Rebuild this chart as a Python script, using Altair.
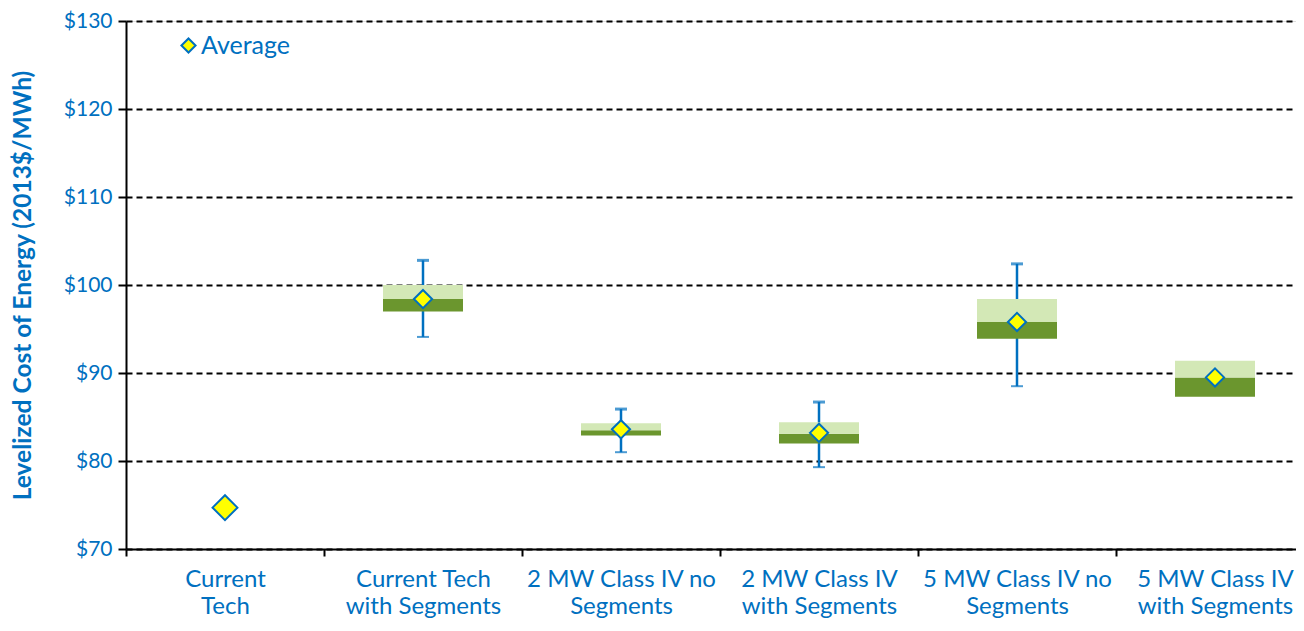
import altair as alt
import pandas as pd

categories = [
    "Current Tech",
    "Current Tech with Segments",
    "2 MW Class IV no Segments",
    "2 MW Class IV with Segments",
    "5 MW Class IV no Segments",
    "5 MW Class IV with Segments",
]
label_lines = [
    ["Current", "Tech"],
    ["Current Tech", "with Segments"],
    ["2 MW Class IV no", "Segments"],
    ["2 MW Class IV", "with Segments"],
    ["5 MW Class IV no", "Segments"],
    ["5 MW Class IV", "with Segments"],
]
q1 = [None, 97.0, 82.9, 82.0, 93.9, 87.3]
median = [None, 98.4, 83.5, 83.1, 95.8, 89.5]
q3 = [None, 100.0, 84.3, 84.4, 98.4, 91.4]
whisker_low = [None, 94.1, 81.0, 79.3, 88.5, None]
whisker_high = [None, 102.8, 85.9, 86.7, 102.4, None]
average = [74.7, 98.4, 83.6, 83.2, 95.8, 89.5]
series_name = "Average"
y_ticks = [70, 80, 90, 100, 110, 120, 130]

df = pd.DataFrame({
    "category": categories,
    "q1": q1, "median": median, "q3": q3,
    "low": whisker_low, "high": whisker_high,
    "average": average,
    "series": [series_name] * len(categories),
})

BLUE = "#0070C0"
FONT = "Lato"

label_expr = " : ".join(
    f"datum.value == '{c}' ? {l!r}" for c, l in zip(categories, label_lines)
) + " : datum.value"

x_enc = alt.X(
    "category:N",
    sort=categories,
    scale=alt.Scale(domain=categories, paddingInner=0, paddingOuter=0, range=[0, 1188]),
    axis=alt.Axis(
        title=None, labelAngle=0, labelExpr=label_expr,
        labelFontSize=24, labelColor=BLUE, labelFont=FONT,
        labelLineHeight=27, labelPadding=11, labelBaseline="top",
        tickBand="extent", tickSize=7, tickWidth=2, tickColor="black",
        domainColor="black", domainWidth=2, grid=False, labelLimit=300,
    ),
)
y_scale = alt.Scale(domain=[70, 130], nice=False, zero=False)
y_axis = alt.Axis(
    title="Levelized Cost of Energy (2013$/MWh)",
    titleFontSize=24.5, titleFont=FONT, titleFontWeight="bold", titleColor=BLUE,
    titlePadding=28,
    values=y_ticks, labelExpr="'$' + datum.value",
    labelFontSize=21, labelFont=FONT, labelColor=BLUE, labelPadding=6,
    tickSize=8, tickWidth=2, tickColor="black",
    domainColor="black", domainWidth=2,
    grid=True, gridColor="black", gridWidth=2, gridDash=[6, 4], gridOpacity=1,
)

base = alt.Chart(df)

whisker = base.mark_rule(color=BLUE, strokeWidth=2.5).encode(
    x=x_enc, y=alt.Y("low:Q", scale=y_scale, axis=y_axis), y2="high:Q"
)
dark = base.mark_bar(color="#6B962E", size=80).encode(
    x=x_enc, y=alt.Y("q1:Q", scale=y_scale), y2="median:Q"
)
light = base.mark_bar(color="#D3E8B6", size=80).encode(
    x=x_enc, y=alt.Y("median:Q", scale=y_scale), y2="q3:Q"
)
cap_hi = base.mark_tick(color=BLUE, size=12, thickness=3).encode(
    x=x_enc, y=alt.Y("high:Q", scale=y_scale)
)
cap_lo = base.mark_tick(color=BLUE, size=12, thickness=2).encode(
    x=x_enc, y=alt.Y("low:Q", scale=y_scale)
)
avg = base.mark_point(shape="diamond", filled=True, stroke=BLUE, strokeWidth=2, opacity=1).encode(
    x=x_enc,
    y=alt.Y("average:Q", scale=y_scale),
    fill=alt.Fill(
        "series:N",
        scale=alt.Scale(range=["#FFFF00"]),
        legend=alt.Legend(
            title=None, orient="none", legendX=50, legendY=12,
            symbolType="diamond", symbolStrokeColor=BLUE, symbolStrokeWidth=2,
            symbolSize=200, symbolFillColor="#FFFF00",
            labelFontSize=25, labelFont=FONT, labelColor=BLUE, labelOffset=0,
        ),
    ),
    size=alt.condition(alt.datum.category == "Current Tech", alt.value(620), alt.value(330)),
)

chart = alt.layer(whisker, dark, light, cap_hi, cap_lo, avg).properties(
    width=1170, height=528,
    autosize=alt.AutoSizeParams(type="none"),
    padding={"left": 118, "top": 13, "right": 0, "bottom": 70},
).configure_view(stroke=None).configure(background="white")

chart.save("out.html", embed_options={"renderer": "svg", "actions": False})
